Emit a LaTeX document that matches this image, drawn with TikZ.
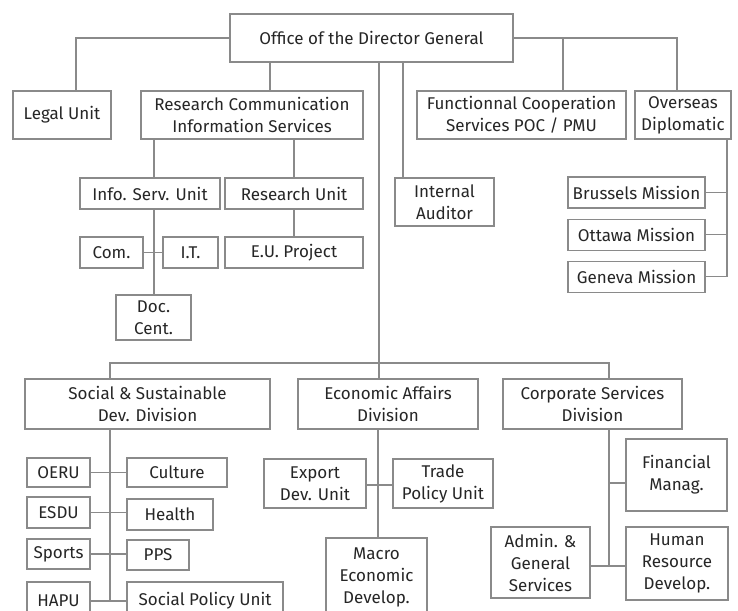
\documentclass[tikz,border=0pt]{standalone}
\usepackage{fontspec}
\setmainfont{Fira Sans}
\usepackage{xcolor}
\usepackage{tikz}
\usetikzlibrary{positioning,calc}
\definecolor{orgline}{HTML}{8A8A8A}
\definecolor{orgtext}{HTML}{262626}

\begin{document}
\begin{tikzpicture}[
  x=1pt, y=-1pt,
  font=\fontsize{17}{22}\selectfont,
  unit/.style={draw=orgline, line width=1.1pt, text=orgtext, align=center,
    inner sep=0pt, minimum height=31pt},
  tall/.style={unit, minimum height=48pt},
  link/.style={orgline, line width=1.1pt},
]
\useasboundingbox[fill=white] (0,0) rectangle (738,610);
% top level
\node[tall, minimum width=283pt] (dg) at (371.5,38) {Office of the Director General};
\node[tall, minimum width=98pt] (legal) at (62,115) {Legal Unit};
\node[tall, minimum width=222pt] (rcis) at (252,115) {Research Communication\\Information Services};
\node[tall, minimum width=209pt] (func) at (521.5,115) {Functionnal Cooperation\\Services POC / PMU};
\node[tall, minimum width=96pt] (overseas) at (683,115) {Overseas\\Diplomatic};
\node[tall, minimum width=99pt] (audit) at (444.5,202) {Internal\\Auditor};
% research communication
\node[unit, minimum width=140pt] (info) at (150,193.5) {Info. Serv. Unit};
\node[unit, minimum width=138pt] (resunit) at (294,193.5) {Research Unit};
\node[unit, minimum width=63pt] (com) at (111.5,252.5) {Com.};
\node[unit, minimum width=55pt] (it) at (190.5,252.5) {I.T.};
\node[unit, minimum width=138pt] (eu) at (294,252.5) {E.U. Project};
\node[unit, minimum width=75pt, minimum height=45pt] (doc) at (153.5,317.5) {Doc.\\Cent.};
% missions
\node[unit, minimum width=137pt] (brussels) at (636.5,192.5) {Brussels Mission};
\node[unit, minimum width=137pt, below=10pt of brussels] (ottawa) {Ottawa Mission};
\node[unit, minimum width=137pt, below=10pt of ottawa] (geneva) {Geneva Mission};
% divisions
\node[unit, minimum width=245pt, minimum height=50pt] (social) at (147.5,404) {Social \& Sustainable\\Dev. Division};
\node[unit, minimum width=180pt, minimum height=50pt] (econ) at (388,404) {Economic Affairs\\Division};
\node[unit, minimum width=179pt, minimum height=50pt] (corp) at (592.5,404) {Corporate Services\\Division};
% social units
\node[unit, minimum width=63pt, minimum height=29pt] (oeru) at (58.5,472.5) {OERU};
\node[unit, minimum width=100pt, minimum height=29pt] (culture) at (177,472.5) {Culture};
\node[unit, minimum width=63pt] (esdu) at (58.5,512.5) {ESDU};
\node[unit, minimum width=86pt] (health) at (170,514.5) {Health};
\node[unit, minimum width=63pt, minimum height=30pt] (sports) at (58.5,554) {Sports};
\node[unit, minimum width=62pt, minimum height=30pt] (pps) at (158,555) {PPS};
\node[unit, minimum width=63pt, minimum height=38pt] (hapu) at (58.5,601) {HAPU};
\node[unit, minimum width=156pt, minimum height=38pt] (spu) at (205,601) {Social Policy Unit};
% economic units
\node[unit, minimum width=102pt, minimum height=49pt] (export) at (315,483.5) {Export\\Dev. Unit};
\node[unit, minimum width=100pt, minimum height=49pt] (trade) at (443,483.5) {Trade\\Policy Unit};
\node[unit, minimum width=101pt, minimum height=78pt] (macro) at (376.5,577) {Macro\\Economic\\Develop.};
% corporate units
\node[unit, minimum width=101pt, minimum height=72pt] (fin) at (676.5,475) {Financial\\Manag.};
\node[unit, minimum width=99pt, minimum height=71pt] (admin) at (540.5,562.5) {Admin. \&\\General\\Services};
\node[unit, minimum width=102pt, minimum height=73pt] (hr) at (677,563.5) {Human\\Resource\\Develop.};
% connectors from the director general
\draw[link] (dg.west) -| ([xshift=14pt]legal.north);
\draw[link] ([xshift=18pt]rcis.north) -- ([xshift=18pt]rcis.north |- dg.south);
\draw[link] (dg.east) -| ([xshift=-6pt]overseas.north);
\draw[link] ([xshift=41.5pt]func.north) -- ([xshift=41.5pt]func.north |- dg.east);
\draw[link] ([xshift=-41.5pt]audit.north) -- ([xshift=-41.5pt]audit.north |- dg.south);
\coordinate (hub) at ([xshift=-9pt]econ.north |- 0,363);
\draw[link] ([xshift=-9pt]econ.north) -- ([xshift=-9pt]econ.north |- dg.south);
\draw[link] ([xshift=-37.5pt]social.north) |- (hub) -| ([xshift=16.5pt]corp.north);
% research communication
\draw[link] ([xshift=4pt]info.north) -- ([xshift=4pt]info.north |- rcis.south);
\draw[link] (resunit.north) -- (resunit.north |- rcis.south);
\draw[link] ([xshift=4pt]info.south) -- ([xshift=4pt]info.south |- doc.north);
\draw[link] (com.east) -- (it.west);
\draw[link] (resunit.south) -- (eu.north);
% missions
\coordinate (mbus) at ([xshift=44pt]overseas.south);
\draw[link] (mbus) |- (geneva.east);
\draw[link] (brussels.east) -- (brussels.east -| mbus);
\draw[link] (ottawa.east) -- (ottawa.east -| mbus);
% social
\coordinate (sbus) at ([xshift=-37.5pt]social.south);
\draw[link] (sbus) -- (sbus |- spu.west);
\foreach \l/\r in {oeru/culture, esdu/health, sports/pps, hapu/spu}
  \draw[link] (\l.east) -- (\l.east -| sbus) -- (\l.east -| \r.west);
% economic
\draw[link] ([xshift=-10pt]econ.south) -- ([xshift=-10pt]econ.south |- macro.north);
\draw[link] ([yshift=-1.5pt]export.east) -- ([yshift=-1.5pt]trade.west);
% corporate
\coordinate (cbus) at ([xshift=16.5pt]corp.south);
\draw[link] (cbus) -- (cbus |- 0,566);
\draw[link] (fin.west |- 0,483) -- (cbus |- 0,483);
\draw[link] (admin.east |- 0,566) -- (hr.west |- 0,566);
\end{tikzpicture}
\end{document}
